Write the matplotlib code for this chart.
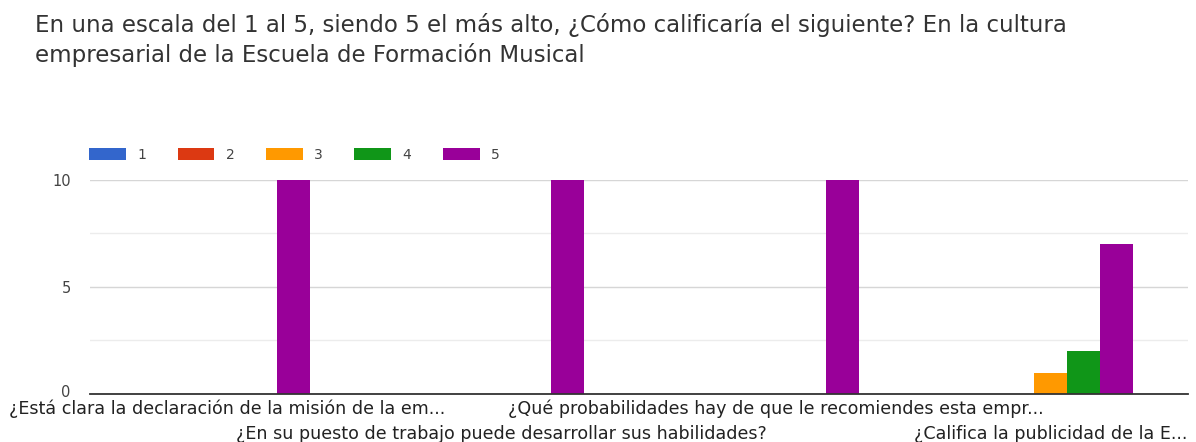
import matplotlib.pyplot as plt
from matplotlib.patches import Patch
from matplotlib.transforms import ScaledTranslation
import numpy as np

plt.rcParams['font.family'] = ['DejaVu Sans']

titulo = ['En una escala del 1 al 5, siendo 5 el más alto, ¿Cómo calificaría el siguiente? En la cultura',
          'empresarial de la Escuela de Formación Musical']

preguntas = [
    '¿Está clara la declaración de la misión de la em...',
    '¿En su puesto de trabajo puede desarrollar sus habilidades?',
    '¿Qué probabilidades hay de que le recomiendes esta empr...',
    '¿Califica la publicidad de la E...',
]
escala = ['1', '2', '3', '4', '5']
colores = ['#3366cc', '#dc3912', '#ff9900', '#109618', '#990099']

# respuestas por cada valor de la escala
resp_1 = [0, 0, 0, 0]
resp_2 = [0, 0, 0, 0]
resp_3 = [0, 0, 0, 1]
resp_4 = [0, 0, 0, 2]
resp_5 = [10, 10, 10, 7]
series = [resp_1, resp_2, resp_3, resp_4, resp_5]

fig = plt.figure(figsize=(11.96, 4.42), dpi=100)
ax = fig.add_axes([0.0753, 0.1086, 0.918, 0.4842])

x = np.arange(len(preguntas))
ancho = 0.12
for i, vals in enumerate(series):
    ax.bar(x + (i - 2) * ancho, vals, ancho, color=colores[i], zorder=3, clip_on=False)

ax.set_xlim(-0.5, len(preguntas) - 0.5)
ax.set_ylim(0, 10)
ax.set_yticks([0, 5, 10])
ax.set_yticks([2.5, 7.5], minor=True)
ax.grid(axis='y', which='major', color='#d6d6d6', linewidth=1, zorder=0)
ax.grid(axis='y', which='minor', color='#ececec', linewidth=1, zorder=0)
ax.tick_params(axis='y', which='both', length=0, labelsize=10.5, labelcolor='#444444', pad=14)
# el 0 sube un poco para no pisar la primera etiqueta
fig.canvas.draw()
lab0 = ax.get_yticklabels()[0]
lab0.set_transform(lab0.get_transform() + ScaledTranslation(0, 2 / 72, fig.dpi_scale_trans))

ax.set_xticks(x)
ax.set_xticklabels(preguntas, fontsize=12.6, color='#222222')
ax.tick_params(axis='x', length=0)
for i, t in enumerate(ax.xaxis.get_major_ticks()):
    t.set_pad(4 if i % 2 == 0 else 22)

for s in ['top', 'right', 'left']:
    ax.spines[s].set_visible(False)
ax.spines['bottom'].set_color('#333333')
ax.spines['bottom'].set_linewidth(1.3)
ax.spines['bottom'].set_zorder(4)

handles = [Patch(facecolor=c, label=l) for c, l in zip(colores, escala)]
fig.legend(handles=handles, loc='center left', bbox_to_anchor=(0.0639, 1 - 155 / 442), ncol=5,
           frameon=False, fontsize=10, handlelength=2.66, handleheight=0.9,
           columnspacing=2.28, handletextpad=0.8, labelcolor='#444444')

fig.text(0.029, 1 - 25 / 442, titulo[0], fontsize=16.5, color='#333333', va='center', ha='left')
fig.text(0.029, 1 - 55 / 442, titulo[1], fontsize=16.5, color='#333333', va='center', ha='left')

fig.savefig('out.png', dpi=100)
